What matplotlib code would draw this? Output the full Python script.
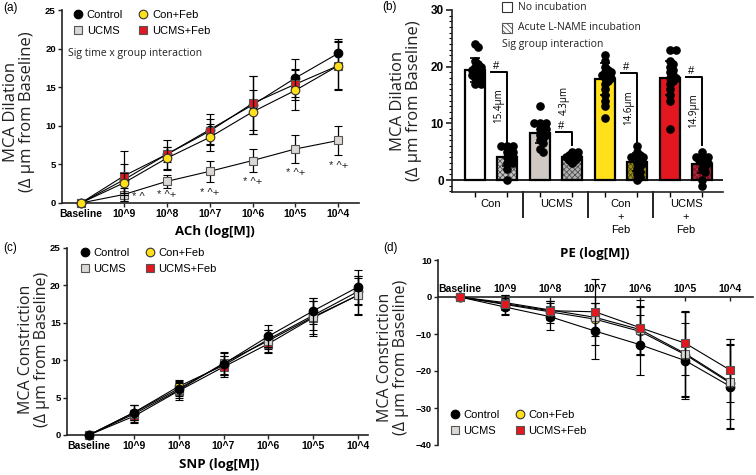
import numpy as np
import matplotlib
matplotlib.use('Agg')
import matplotlib.pyplot as plt
from matplotlib.lines import Line2D
from matplotlib.patches import Rectangle
import matplotlib.transforms as mtransforms

# ---------------- data ----------------
doses = ['Baseline', '10^9', '10^8', '10^7', '10^6', '10^5', '10^4']
groups = ['Control', 'Con+Feb', 'UCMS', 'UCMS+Feb']

# (a) ACh dilation
ach_control = [0, 3.0, 6.3, 9.5, 12.7, 16.2, 19.4]
ach_confeb = [0, 2.6, 5.8, 8.5, 11.8, 14.6, 17.8]
ach_ucms = [0, 1.1, 2.8, 4.1, 5.5, 7.0, 8.1]
ach_ucmsfeb = [0, 3.5, 6.3, 9.3, 12.9, 15.4, 17.8]
ach_control_sd = [0, 2.0, 1.9, 2.0, 3.8, 2.5, 1.9]
ach_confeb_sd = [0, 1.3, 1.5, 1.7, 2.8, 2.6, 3.2]
ach_ucms_sd = [0, 0.8, 0.8, 1.35, 1.5, 1.8, 1.9]
ach_ucmsfeb_sd = [0, 3.2, 1.0, 1.6, 3.5, 2.0, 3.0]
ach_sig_labels = ['* ^', '* ^+', '* ^+', '* ^+', '* ^+', '* ^+']
ach_sig_y = [0.8, 1.1, 1.33, 2.76, 3.85, 4.83]

# (b) L-NAME bars
bar_groups = ['Con', 'UCMS', 'Con\n+\nFeb', 'UCMS\n+\nFeb']
bar_no_inc = [19.4, 8.3, 17.8, 18.0]
bar_no_inc_sd = [2.1, 1.8, 2.8, 3.0]
bar_lname = [4.0, 4.0, 3.2, 2.8]
bar_lname_sd = [1.5, 0.6, 1.6, 1.6]
diff_labels = ['15.4\u00b5m', '4.3\u00b5m', '14.6\u00b5m', '14.9\u00b5m']
bracket_top = [19.1, 8.5, 18.9, 18.2]
bracket_bottom = [6.5, 6.2, 6.7, 6.2]
diff_label_y = [13.2, 14.1, 12.7, 12.3]

dots_con = [24, 23.5, 21, 20.5, 20, 20, 19.5, 19.5, 19, 19, 18.5, 18.5, 18, 18, 17.5, 17, 17]
dots_con_ln = [6, 6, 6, 5.5, 5, 5, 4.5, 4, 4, 3.5, 3, 3, 2, 0]
dots_ucms = [13, 10, 10, 10, 9.5, 9, 9, 8.5, 8, 8, 7.5, 7, 6.5, 5.5, 5]
dots_ucms_ln = [5, 5, 4.5, 4.5, 4, 4, 4, 3.5, 3.5, 3]
dots_cf = [22, 21, 20, 19.5, 19, 19, 18.5, 18.5, 18, 18, 17.5, 17, 16, 15, 14, 13, 11]
dots_cf_ln = [6, 5, 4.5, 4, 4, 4, 3.5, 3, 3, 2.5, 2, 1.5, 1, 0.5, 0]
dots_uf = [23, 23, 21, 20.5, 20, 19.5, 19, 18.5, 18, 18, 17.5, 17, 16, 15, 14, 9]
dots_uf_ln = [5, 4, 4, 4, 4, 3.5, 3.5, 3, 3, 2.5, 2, 1.5, 0, -1]

# (c) SNP
snp_control = [0, 3.0, 6.2, 9.5, 13.2, 16.6, 19.8]
snp_confeb = [0, 3.0, 6.5, 9.3, 12.8, 16.0, 19.2]
snp_ucms = [0, 2.8, 6.0, 9.6, 12.6, 15.8, 18.7]
snp_ucmsfeb = [0, 2.5, 5.9, 9.1, 12.2, 15.7, 18.7]
snp_control_sd = [0, 1.0, 1.0, 1.5, 1.5, 1.7, 2.3]
snp_confeb_sd = [0, 1.0, 0.8, 1.3, 1.3, 1.9, 1.8]
snp_ucms_sd = [0, 1.2, 1.0, 1.5, 1.5, 2.5, 2.6]
snp_ucmsfeb_sd = [0, 0.8, 1.2, 1.4, 1.2, 2.2, 2.5]

# (d) PE
pe_control = [0, -2.7, -5.3, -9.2, -12.9, -17.2, -24.2]
pe_confeb = [0, -2.0, -4.0, -6.0, -9.3, -15.6, -23.3]
pe_ucms = [0, -1.5, -3.5, -5.5, -8.8, -15.3, -23.0]
pe_ucmsfeb = [0, -1.8, -3.7, -4.0, -8.3, -12.5, -19.8]
pe_control_sd = [0, 2.2, 3.7, 7.6, 8.1, 10.3, 11.5]
pe_confeb_sd = [0, 2.5, 3.0, 4.5, 6.5, 11.5, 12.0]
pe_ucms_sd = [0, 2.0, 2.5, 4.0, 6.5, 11.5, 10.0]
pe_ucmsfeb_sd = [0, 1.5, 2.5, 9.0, 7.5, 8.5, 8.5]

# ---------------- style ----------------
W, H = 756, 475
fig = plt.figure(figsize=(W / 100, H / 100), dpi=100)

styles = {
    'Control': dict(marker='o', mfc='black', mec='black', ms=6.2),
    'Con+Feb': dict(marker='o', mfc='#FFE01B', mec='#333333', ms=6.2),
    'UCMS': dict(marker='s', mfc='#DAD7D4', mec='#555555', ms=6.0),
    'UCMS+Feb': dict(marker='s', mfc='#E2171F', mec='#555555', ms=6.0),
}


def px_rect(l, t, r, b):
    return [l / W, 1 - b / H, (r - l) / W, (b - t) / H]


def style_axis(ax, ysize=6.8, xsize=7.5):
    for s in ax.spines.values():
        s.set_linewidth(1.2)
        s.set_color('#222222')
    ax.tick_params(width=1.0, length=3, color='#222222', pad=1.5)
    for lab in ax.get_yticklabels():
        lab.set_fontfamily('Liberation Sans')
        lab.set_fontweight('bold')
        lab.set_fontsize(ysize)
    for lab in ax.get_xticklabels():
        lab.set_fontfamily('Liberation Sans')
        lab.set_fontweight('bold')
        lab.set_fontsize(xsize)


def draw_curves(ax, series, order):
    x = np.arange(len(doses))
    for i, name in enumerate(order):
        m, e = series[name]
        st = styles[name]
        ax.errorbar(x, m, yerr=e, color='black', lw=0.8, elinewidth=0.9,
                    capsize=3.2, capthick=0.9, marker=st['marker'], ms=st['ms'],
                    mfc=st['mfc'], mec=st['mec'], mew=0.8, clip_on=False,
                    zorder=3 + i)


def curve_legend(ax, loc, anchor):
    handles = []
    for name in ['Control', 'UCMS', 'Con+Feb', 'UCMS+Feb']:
        st = styles[name]
        handles.append(Line2D([], [], ls='none', marker=st['marker'], ms=st['ms'],
                              mfc=st['mfc'], mec=st['mec'], mew=0.8, label=name))
    ax.legend(handles=handles, ncol=2, loc=loc, bbox_to_anchor=anchor,
              frameon=False, prop=dict(family='Liberation Sans', size=8),
              handletextpad=0.3, columnspacing=1.3, labelspacing=0.55,
              handlelength=1.0, borderaxespad=0, borderpad=0)


def ylabel_fig(xc, yc, text, size):
    fig.text(xc / W, 1 - yc / H, text, rotation=90, ha='center', va='center',
             multialignment='center', family='Open Sans', fontsize=size,
             linespacing=1.05, color='#222222')


# ---------------- panel (a) ----------------
axa = fig.add_axes(px_rect(62, 10, 359, 203))
draw_curves(axa, {'Control': (ach_control, ach_control_sd),
                  'Con+Feb': (ach_confeb, ach_confeb_sd),
                  'UCMS': (ach_ucms, ach_ucms_sd),
                  'UCMS+Feb': (ach_ucmsfeb, ach_ucmsfeb_sd)},
            ['UCMS', 'Control', 'UCMS+Feb', 'Con+Feb'])
axa.set_xlim(-0.44, 6.48)
axa.set_ylim(0, 25)
axa.set_yticks([0, 5, 10, 15, 20, 25])
axa.set_xticks(range(len(doses)))
axa.set_xticklabels(doses)
axa.spines['top'].set_visible(False)
axa.spines['right'].set_visible(False)
style_axis(axa)
for i, (lab, y) in enumerate(zip(ach_sig_labels, ach_sig_y)):
    xx = i + 1 + (0.35 if i == 0 else 0.0)
    axa.text(xx, y, lab, ha='center', va='center', family='Liberation Sans',
             fontsize=8, color='#222222')
axa.text(0.515, -0.15, 'ACh (log[M])', transform=axa.transAxes, ha='center',
         va='center', family='Open Sans', weight='bold', fontsize=9.5)
curve_legend(axa, 'upper left', (0.035, 1.0))
axa.text((68 - 62) / 297, (203 - 53) / 193, 'Sig time x group interaction',
         transform=axa.transAxes, ha='left', va='center', family='Open Sans',
         fontsize=7.5, color='#222222')
ylabel_fig(19, 112, 'MCA Dilation\n(\u0394 \u00b5m from Baseline)', 12)
fig.text(3 / W, 1 - 8 / H, '(a)', family='Liberation Sans', fontsize=8.5, va='center')

# ---------------- panel (b) ----------------
axb = fig.add_axes(px_rect(452, 10, 723, 192))
axb.set_xlim(-0.6, 3.57)
axb.set_ylim(-2.1, 30)
gx = np.arange(len(bar_groups))
off = 0.246
bw = 0.32
no_inc_colors = ['white', '#CFC8C3', '#FFE01B', '#E2171F']
ln_colors = ['#C6C6C6', '#B0B0B0', '#9C8F1C', '#8C1020']
ln_hatch_colors = ['#555555', '#505050', '#4E4608', '#B03048']
plt.rcParams['hatch.linewidth'] = 0.6
for i in range(len(bar_groups)):
    axb.bar(gx[i] - off, bar_no_inc[i], width=bw, color=no_inc_colors[i],
            edgecolor='black', linewidth=1.6, zorder=2)
    axb.bar(gx[i] + off, bar_lname[i], width=bw, color=ln_colors[i],
            edgecolor=ln_hatch_colors[i], hatch='xxxxxx', linewidth=0, zorder=2)
    axb.bar(gx[i] + off, bar_lname[i], width=bw, color='none',
            edgecolor='black', linewidth=1.6, zorder=2.1)
    axb.errorbar([gx[i] - off], [bar_no_inc[i]], yerr=[bar_no_inc_sd[i]],
                 color='black', lw=0, elinewidth=1.2, capsize=3.5, capthick=1.2,
                 zorder=3)
    axb.errorbar([gx[i] + off], [bar_lname[i]], yerr=[bar_lname_sd[i]],
                 color='black', lw=0, elinewidth=1.2, capsize=3.5, capthick=1.2,
                 zorder=3)


def swarm_x(ax, xc, vals, diam_px, max_half_px, min_sep=0.6):
    vals = np.asarray(vals, dtype=float)
    pts = ax.transData.transform(np.column_stack([np.full(len(vals), xc), vals]))
    ys = pts[:, 1]
    x0 = pts[0, 0]
    order = np.argsort(-vals, kind='stable')
    step = diam_px * 0.45
    cands = [0.0]
    k = 1
    while k * step <= max_half_px:
        cands += [k * step, -k * step]
        k += 1
    placed = []
    xs = np.zeros(len(vals))
    for i in order:
        y = ys[i]
        chosen = None
        best_c, best_ov = 0.0, 1e9
        for c in cands:
            ov = 0.0
            for (px, py) in placed:
                d = np.hypot(px - c, py - y)
                if d < diam_px * min_sep:
                    ov += diam_px - d
            if ov == 0:
                chosen = c
                break
            if ov < best_ov:
                best_ov, best_c = ov, c
        if chosen is None:
            chosen = best_c
        placed.append((chosen, y))
        xs[i] = chosen
    inv = ax.transData.inverted()
    return inv.transform(np.column_stack([x0 + xs, ys]))[:, 0]


all_dots = [(dots_con, dots_con_ln), (dots_ucms, dots_ucms_ln),
            (dots_cf, dots_cf_ln), (dots_uf, dots_uf_ln)]
for i, (d1, d2) in enumerate(all_dots):
    for xc, vals in ((gx[i] - off, d1), (gx[i] + off, d2)):
        xs = swarm_x(axb, xc, vals, 7.0, 7.5)
        axb.plot(xs, vals, ls='none', marker='o', ms=5.2, mfc='black',
                 mec='black', zorder=4, clip_on=False)

axb.axhline(0, color='#222222', lw=1.4, zorder=1)
for i in range(len(bar_groups)):
    xl = gx[i] + 0.0
    xr = gx[i] + off
    axb.plot([xl, xr, xr], [bracket_top[i], bracket_top[i], bracket_bottom[i]],
             color='black', lw=1.4, zorder=5)
    axb.text(gx[i] + 0.08, bracket_top[i] + 1.1, '#', ha='center', va='center',
             family='Liberation Sans', fontsize=8)
    axb.text(gx[i] + 0.12, diff_label_y[i], diff_labels[i], rotation=90,
             ha='center', va='center', family='Open Sans', fontsize=7)

axb.spines['top'].set_visible(False)
axb.spines['right'].set_visible(False)
axb.set_yticks([0, 10, 20, 30])
axb.set_yticks(np.arange(-2, 31, 1), minor=True)
axb.set_xticks(gx)
axb.set_xticklabels(bar_groups)
axb.set_xticks(np.concatenate([gx - off, gx + off]), minor=True)
style_axis(axb, ysize=8.5)
axb.tick_params(axis='x', which='major', length=0, pad=5)
axb.tick_params(axis='x', which='minor', length=3.5, width=1.0)
axb.tick_params(axis='y', which='minor', length=2, width=0.8)
axb.tick_params(axis='y', which='major', length=4.5, width=1.2)
for lab in axb.get_xticklabels():
    lab.set_fontweight('normal')
    lab.set_fontsize(8)
    lab.set_linespacing(1.35)
trans = mtransforms.blended_transform_factory(axb.transData, axb.transAxes)
for sx in gx[:-1] + 0.5:
    axb.plot([sx, sx], [0, -25 / 182], color='#222222', lw=1.4,
             transform=trans, clip_on=False)

# legend (b)
fig.add_artist(Rectangle((502 / W, 1 - 12 / H), 10 / W, 10 / H, transform=fig.transFigure,
                         facecolor='white', edgecolor='#333333', lw=0.8))
fig.add_artist(Rectangle((502 / W, 1 - 33 / H), 10 / W, 10 / H, transform=fig.transFigure,
                         facecolor='white', edgecolor='#555555', hatch='\\\\\\\\\\\\',
                         lw=0.8))
fig.text(518 / W, 1 - 7 / H, 'No incubation', family='Open Sans', fontsize=7.5,
         va='center', color='#222222')
fig.text(518 / W, 1 - 28 / H, 'Acute L-NAME incubation', family='Open Sans',
         fontsize=7.5, va='center', color='#222222')
fig.text(502 / W, 1 - 45 / H, 'Sig group interaction', family='Open Sans',
         fontsize=7.5, va='center', color='#222222')
ylabel_fig(406, 101, 'MCA Dilation\n(\u0394 \u00b5m from Baseline)', 12)
fig.text(382 / W, 1 - 7 / H, '(b)', family='Liberation Sans', fontsize=8.5, va='center')

# ---------------- panel (c) ----------------
axc = fig.add_axes(px_rect(67, 248, 368, 435))
draw_curves(axc, {'Control': (snp_control, snp_control_sd),
                  'Con+Feb': (snp_confeb, snp_confeb_sd),
                  'UCMS': (snp_ucms, snp_ucms_sd),
                  'UCMS+Feb': (snp_ucmsfeb, snp_ucmsfeb_sd)},
            ['Con+Feb', 'UCMS+Feb', 'UCMS', 'Control'])
axc.set_xlim(-0.49, 6.22)
axc.set_ylim(0, 25)
axc.set_yticks([0, 5, 10, 15, 20, 25])
axc.set_xticks(range(len(doses)))
axc.set_xticklabels(doses)
axc.spines['top'].set_visible(False)
axc.spines['right'].set_visible(False)
style_axis(axc)
axc.text(0.505, -0.16, 'SNP (log[M])', transform=axc.transAxes, ha='center',
         va='center', family='Open Sans', weight='bold', fontsize=9.5)
curve_legend(axc, 'upper left', (0.04, 1.0))
ylabel_fig(34, 349, 'MCA Constriction\n(\u0394 \u00b5m from Baseline)', 11.5)
fig.text(3 / W, 1 - 248 / H, '(c)', family='Liberation Sans', fontsize=8.5, va='center')

# ---------------- panel (d) ----------------
axd = fig.add_axes(px_rect(438, 260, 753, 445))
draw_curves(axd, {'Control': (pe_control, pe_control_sd),
                  'Con+Feb': (pe_confeb, pe_confeb_sd),
                  'UCMS': (pe_ucms, pe_ucms_sd),
                  'UCMS+Feb': (pe_ucmsfeb, pe_ucmsfeb_sd)},
            ['Control', 'Con+Feb', 'UCMS', 'UCMS+Feb'])
axd.set_xlim(-0.48, 6.5)
axd.set_ylim(-40, 10)
axd.set_yticks([10, 0, -10, -20, -30, -40])
axd.spines['bottom'].set_visible(False)
axd.spines['right'].set_visible(False)
axd.spines['top'].set_position(('data', 0))
axd.xaxis.tick_top()
axd.set_xticks(range(len(doses)))
axd.set_xticklabels(doses)
style_axis(axd)
axd.tick_params(axis='x', direction='in', pad=2)
axd.text(0.498, (445 - 253) / 185, 'PE (log[M])', transform=axd.transAxes,
         ha='center', va='center', family='Open Sans', weight='bold', fontsize=9.5)
curve_legend(axd, 'lower left', (0.035, 0.05))
ylabel_fig(393, 357, 'MCA Constriction\n(\u0394 \u00b5m from Baseline)', 11.5)
fig.text(383 / W, 1 - 248 / H, '(d)', family='Liberation Sans', fontsize=8.5, va='center')

fig.savefig('out.png', dpi=100)
